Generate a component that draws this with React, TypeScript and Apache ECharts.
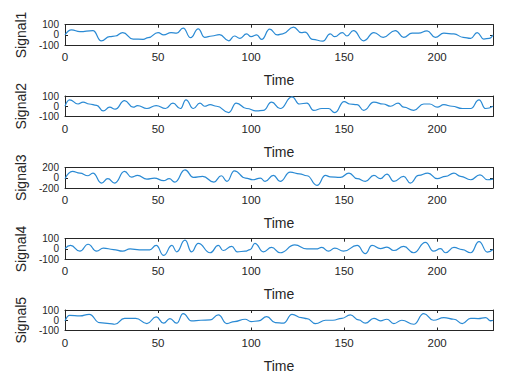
import React, { useEffect, useRef } from "react";
import * as echarts from "echarts";

// Signal names and y-axis ranges
const signalNames = ["Signal1", "Signal2", "Signal3", "Signal4", "Signal5"];
const yLimits = [100, 100, 200, 100, 100];
const xTicks = [0, 50, 100, 150, 200];
const xMax = 230;

// Signal 1 (time, value)
const sig1T = [0, 3.5, 8, 15, 19.5, 24, 27, 31, 36.6, 42, 44.7, 50, 53, 57, 60, 63.5, 67.5, 71.6, 75, 79, 83, 88, 91, 94, 97.6, 100, 103, 105.7, 110, 114, 117, 122.8, 127, 129, 133, 138.6, 142.5, 145, 149, 151.5, 155, 160.5, 166, 171, 177.5, 182, 186.5, 190, 194.6, 199, 203.6, 209, 214, 218, 221.5, 225, 228, 230];
const sig1V = [0, 50, 33, 43, -57, -17, -10, 23, -40, -43, -27, 23, 0, 23, 17, 67, -27, 60, -23, -10, 3, -57, -10, -33, 10, -17, 0, -43, 57, 0, 10, 77, 23, 28, -43, -60, 10, -17, 23, -10, 43, -57, 23, -23, 43, -23, 17, 17, 40, -23, 17, 10, -23, -33, 23, -40, -33, 0];

// Signal 2
const sig2T = [0, 2.5, 7, 9.7, 13, 17, 20.5, 24, 27, 32, 36.6, 39, 44, 49, 54, 58, 62, 65, 69, 72.5, 75, 78, 81.5, 88, 92, 97.6, 103, 106.6, 111, 115.6, 122, 126, 130, 133.6, 138, 141.6, 145, 150, 153, 157, 160.5, 166, 171, 175, 179, 182, 187.4, 192.8, 196, 200, 203.6, 208, 213.5, 218, 222.5, 226, 230];
const sig2V = [0, 62, 22, 40, 22, 9, -46, -9, -28, 55, -9, 6, -22, 6, -22, 31, -22, 62, -22, 31, 0, 15, 0, -62, 31, -22, -46, -40, 40, -22, 92, 22, 31, -40, -22, -22, -62, 46, 22, 15, -40, 40, 22, 0, 31, -9, -40, 22, 22, -9, 15, 0, -22, -22, 62, -22, 0];

// Signal 3
const sig3T = [0, 4, 8, 12.4, 15, 19.6, 23, 26.7, 32, 35.7, 39, 44, 48, 53, 56, 59, 64.5, 69, 74, 80, 84, 87, 91, 97, 101, 105, 107.5, 112, 115.6, 121, 126, 130, 135.4, 140, 142.5, 148, 152.6, 157, 161.4, 166, 169.5, 173, 176.7, 182, 185.6, 190, 195, 200, 204.5, 209, 212.6, 218, 223, 227, 230];
const sig3V = [-19, 123, 90, 39, 90, -103, -19, -103, 123, 13, 45, -26, -6, -58, -19, -84, 155, 6, 26, -84, 39, -71, 135, -6, -39, -6, -71, 45, -71, 110, 77, 39, -148, 45, 19, 6, 90, -19, -71, 45, -19, 71, -71, 26, -103, 45, 90, -19, 26, 90, 26, -39, 58, -39, -26];

// Signal 4
const sig4T = [0, 3, 8, 12.4, 17, 20.6, 26, 31, 35, 40, 45.5, 49, 53, 57.5, 60, 64.5, 68, 71.6, 78, 82.4, 85, 89.6, 92.5, 96.8, 99.5, 102, 106.6, 111, 115.6, 123.5, 130, 135, 138, 141.6, 145, 149.7, 157, 161.4, 165, 169.5, 173, 176.7, 182, 187.4, 193.7, 198, 201.8, 204.5, 209, 213.5, 218, 222.5, 227, 230];
const sig4V = [3, 34, -22, 46, -22, 9, -6, -22, 0, -9, -9, 34, -62, 34, -28, 86, -28, 55, -37, 34, -15, 25, -28, -22, -6, 55, -28, 15, -37, 40, 0, 0, 15, -22, 9, -22, 34, -46, 34, 3, 18, -15, 25, -37, 65, -22, 3, -37, 15, -6, -37, 71, -31, -6];

// Signal 5
const sig5T = [0, 2.5, 8, 13, 18.7, 24, 26.7, 32, 38, 44, 49, 53, 56.4, 60, 63.5, 68, 73, 78, 82.4, 87, 91, 96.8, 100, 104, 108.4, 113, 117.4, 122, 127, 130, 134.6, 140, 144, 148.8, 153.3, 157.8, 161.4, 166, 169.5, 173, 176.7, 181, 187.4, 192.8, 198, 203.6, 209, 213.5, 218, 222, 226, 228.7, 230];
const sig5V = [-6, 48, 42, 58, -23, -32, -39, 19, 19, -32, 32, -29, 16, -29, 65, -6, 0, 3, 52, -32, -13, 10, -13, -6, 35, -23, -29, 58, 26, 16, -32, 0, 0, 19, 52, 3, -29, 19, -6, 10, -32, 0, -39, 65, 0, 26, 10, -32, 19, 16, 26, -6, 0];

const signalT = [sig1T, sig2T, sig3T, sig4T, sig5T];
const signalV = [sig1V, sig2V, sig3V, sig4V, sig5V];

const gridTops = [24.7, 96, 167.5, 238.7, 310];
const gridHeight = 20.5;
const FONT = "'Liberation Sans', Arial, sans-serif";
const DARK = "#262626";
const LINE = "#2a8ad4";

export default function App() {
  const ref = useRef<HTMLDivElement>(null);
  useEffect(() => {
    if (!ref.current) return;
    const chart = echarts.init(ref.current, null, { renderer: "svg" });
    const grids: any[] = [];
    const xAxes: any[] = [];
    const yAxes: any[] = [];
    const series: any[] = [];
    signalNames.forEach((name, i) => {
      grids.push({ left: 65, right: 19, top: gridTops[i], height: gridHeight, containLabel: false });
      const axisLine = { show: true, onZero: false, lineStyle: { color: DARK, width: 1 } };
      const tick = { show: true, inside: true, length: 3, lineStyle: { color: DARK, width: 1 } };
      const xLabelStyle = { color: DARK, fontSize: 11.5, fontFamily: FONT, hideOverlap: false };
      const yLabelStyle = { color: DARK, fontSize: 10, lineHeight: 10, fontFamily: FONT, hideOverlap: false };
      xAxes.push({
        type: "value", gridIndex: i, min: 0, max: xMax, interval: 50, position: "bottom",
        axisLine, axisTick: tick, splitLine: { show: false },
        axisLabel: { ...xLabelStyle, margin: 6, showMaxLabel: false, showMinLabel: true },
        name: "Time", nameLocation: "middle", nameGap: 28,
        nameTextStyle: { color: DARK, fontSize: 14, fontFamily: FONT },
      });
      xAxes.push({
        type: "value", gridIndex: i, min: 0, max: xMax, interval: 50, position: "top",
        axisLine, axisTick: tick, splitLine: { show: false }, axisLabel: { show: false },
      });
      const lim = yLimits[i];
      // left axis: box line, ticks, and the -lim / lim labels
      yAxes.push({
        type: "value", gridIndex: i, min: -lim, max: lim, interval: lim, position: "left",
        axisLine, axisTick: tick, splitLine: { show: false },
        axisLabel: {
          ...yLabelStyle, margin: 6, showMinLabel: true, showMaxLabel: true,
          formatter: (v: number) => (v === 0 ? "" : String(v)),
        },
        name, nameLocation: "middle", nameGap: 36, nameRotate: 90,
        nameTextStyle: { color: DARK, fontSize: 14, fontFamily: FONT },
      });
      yAxes.push({
        type: "value", gridIndex: i, min: -lim, max: lim, interval: lim, position: "right",
        axisLine, axisTick: tick, splitLine: { show: false }, axisLabel: { show: false },
      });
      // extra left axis carrying only the middle "0" label
      yAxes.push({
        type: "value", gridIndex: i, min: -lim, max: lim, interval: lim, position: "left",
        axisLine: { show: false, onZero: false }, axisTick: { show: false }, splitLine: { show: false },
        axisLabel: {
          ...yLabelStyle, margin: 6, showMinLabel: false, showMaxLabel: false,
          formatter: (v: number) => (v === 0 ? "0" : ""),
        },
      });
      series.push({
        type: "line", xAxisIndex: i * 2, yAxisIndex: i * 3,
        data: signalT[i].map((t, k) => [t, signalV[i][k]]),
        showSymbol: false, smooth: 0.5, smoothMonotone: "x",
        lineStyle: { color: LINE, width: 1.2 }, itemStyle: { color: LINE },
      });
    });
    chart.setOption({
      animation: false,
      backgroundColor: "#ffffff",
      grid: grids,
      xAxis: xAxes,
      yAxis: yAxes,
      series,
    });
    return () => chart.dispose();
  }, []);
  return <div ref={ref} style={{ position: "absolute", left: 0, top: 0, width: 512, height: 377 }} />;
}
